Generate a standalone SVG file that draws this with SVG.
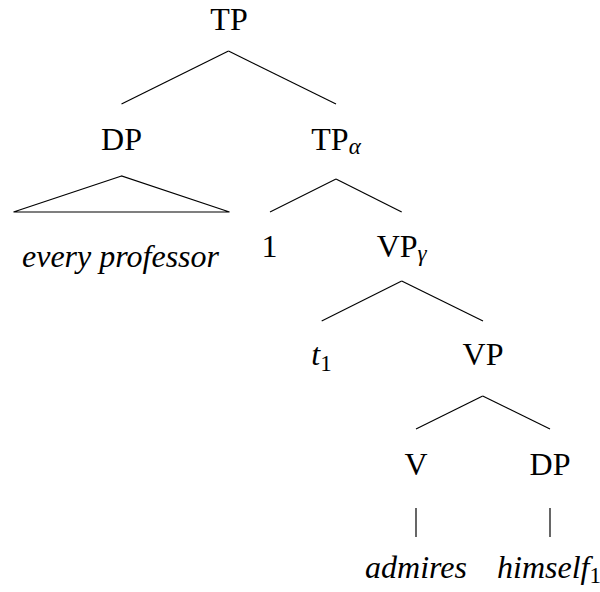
<svg xmlns="http://www.w3.org/2000/svg" width="600" height="592" viewBox="0 0 600 592">
<style>
text{font-family:"Liberation Serif","Times New Roman",serif;font-size:32px;fill:#000;text-anchor:middle}
.it{font-style:italic}
.sub{font-size:23px}
.e{stroke:#000;stroke-width:1.2;fill:none}
</style>
<rect width="600" height="592" fill="#fff"/>
<g id="connectors">
<line class="e" x1="228.5" y1="51" x2="121.5" y2="104"/>
<line class="e" x1="228.5" y1="51" x2="336" y2="104"/>
<path class="e" d="M121.5,176 L13.5,212 L229.5,212 Z"/>
<line class="e" x1="336" y1="179" x2="270" y2="212"/>
<line class="e" x1="336" y1="179" x2="401.7" y2="212"/>
<line class="e" x1="401.7" y1="281" x2="321.7" y2="321"/>
<line class="e" x1="401.7" y1="281" x2="483" y2="321"/>
<line class="e" x1="482.7" y1="396" x2="416" y2="429"/>
<line class="e" x1="482.7" y1="396" x2="550" y2="429"/>
<line class="e" x1="416" y1="508" x2="416" y2="537"/>
<line class="e" x1="550" y1="508" x2="550" y2="537"/>
</g>
<g id="n-TP"><text x="229" y="29.5">TP</text></g>
<g id="n-DP"><text x="121.5" y="149.5">DP</text></g>
<g id="n-TPa"><text x="336" y="149.5">TP<tspan class="sub it" dy="4">α</tspan></text></g>
<g id="n-every"><text class="it" x="120.5" y="267">every professor</text></g>
<g id="n-1"><text x="269.5" y="257">1</text></g>
<g id="n-VPg"><text x="401.7" y="257">VP<tspan class="sub it" dy="4">γ</tspan></text></g>
<g id="n-t1"><text x="321.5" y="365"><tspan class="it">t</tspan><tspan class="sub" dy="5.5">1</tspan></text></g>
<g id="n-VP"><text x="483" y="365">VP</text></g>
<g id="n-V"><text x="416" y="475">V</text></g>
<g id="n-DP2"><text x="550" y="475">DP</text></g>
<g id="n-admires"><text class="it" x="416" y="578">admires</text></g>
<g id="n-himself"><text x="549" y="578"><tspan class="it">himself</tspan><tspan class="sub" dy="5">1</tspan></text></g>
</svg>
